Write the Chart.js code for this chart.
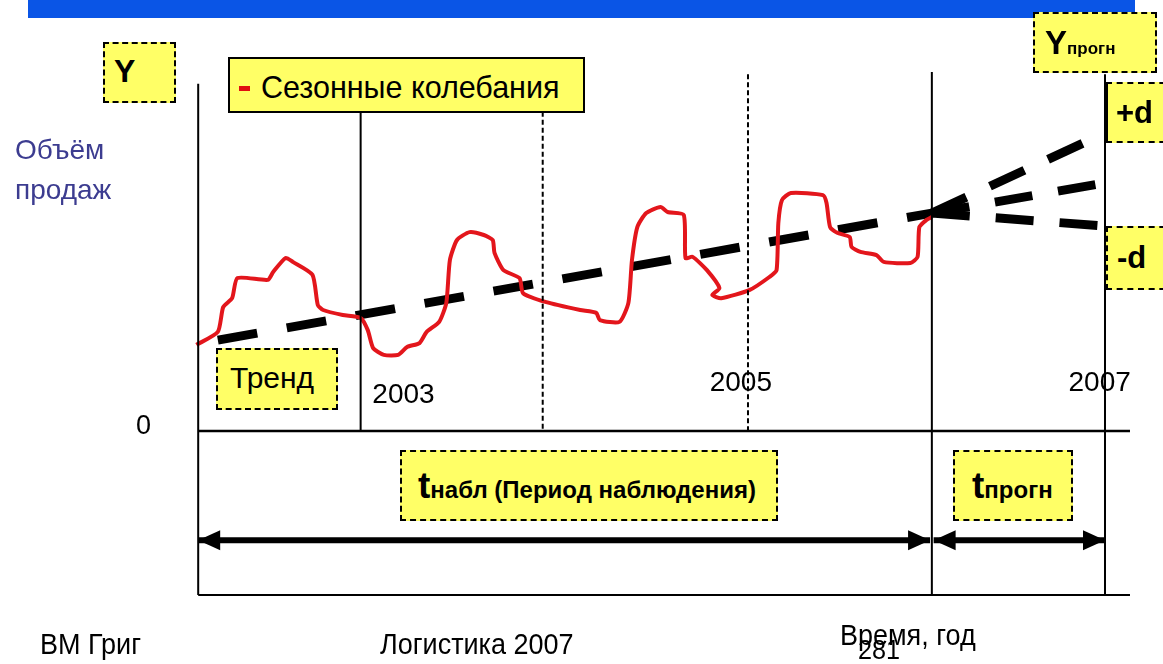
<!DOCTYPE html>
<html lang="ru">
<head>
<meta charset="utf-8">
<title>Прогноз объёма продаж</title>
<script src="https://cdn.jsdelivr.net/npm/chart.js@4.4.1/dist/chart.umd.min.js"></script>
<style>
    body { margin: 0; background: #fff; font-family: "Liberation Sans", Arial, sans-serif; }
    #wrap { position: relative; width: 1163px; height: 664px; overflow: hidden; background: #fff; }
    #wrap canvas { position: absolute; left: 0; top: 0; }
    .box { position: absolute; background: #ffff66; border: 2px dashed #000; box-sizing: border-box; white-space: nowrap; }
    .lbl { position: absolute; white-space: nowrap; line-height: 1; color: #000; }
    .b { font-weight: bold; }
    .narrow { transform: scaleX(0.9); transform-origin: left top; }
</style>
</head>
<body>
<div id="wrap">
    <canvas id="salesChart" width="1163" height="664"></canvas>

    <div style="position:absolute;left:28px;top:0;width:1107px;height:18px;background:#0a55e6;"></div>

    <div class="box" style="left:103px;top:42px;width:73px;height:61px;">
        <span class="lbl b" style="left:9px;top:11px;font-size:32px;">Y</span>
    </div>
    <div class="box" style="left:228px;top:57px;width:357px;height:56px;border:2.5px solid #000;">
        <span style="position:absolute;left:9px;top:27px;width:11px;height:5px;background:#e01010;"></span>
        <span class="lbl" style="left:31px;top:13px;font-size:30.5px;">Сезонные колебания</span>
    </div>
    <div class="lbl" style="left:15px;top:130px;font-size:28px;line-height:40px;color:#3c3c90;">Объём<br>продаж</div>
    <div class="lbl" style="left:136px;top:412px;font-size:27px;">0</div>
    <div class="box" style="left:216px;top:348px;width:122px;height:62px;">
        <span class="lbl" style="left:12px;top:13px;font-size:30px;">Тренд</span>
    </div>

    <div class="box" style="left:1033px;top:12px;width:124px;height:61px;">
        <span class="lbl b" style="left:10px;top:12px;font-size:33px;">Y<span style="font-size:17px;">прогн</span></span>
    </div>
    <div class="box" style="left:1106px;top:82px;width:70px;height:61px;border-left:2.5px solid #000;">
        <span class="lbl b" style="left:8px;top:13px;font-size:31px;">+d</span>
    </div>
    <div class="box" style="left:1106px;top:226px;width:70px;height:64px;">
        <span class="lbl b" style="left:9px;top:14px;font-size:31px;">-d</span>
    </div>

    <div class="box" style="left:400px;top:450px;width:378px;height:71px;">
        <span class="lbl b" style="left:16px;top:15px;font-size:37px;">t<span style="font-size:24px;">набл (Период наблюдения)</span></span>
    </div>
    <div class="box" style="left:953px;top:450px;width:120px;height:71px;">
        <span class="lbl b" style="left:17px;top:15px;font-size:37px;">t<span style="font-size:24px;">прогн</span></span>
    </div>

    <div class="lbl narrow" style="left:40px;top:629px;font-size:30px;">ВМ Григ</div>
    <div class="lbl narrow" style="left:380px;top:629px;font-size:30px;">Логистика 2007</div>
    <div class="lbl narrow" style="left:840px;top:620px;font-size:30px;">Время, год</div>
    <div class="lbl narrow" style="left:858px;top:636px;font-size:28px;">281</div>
</div>

<script>
// сезонные колебания (годы / объём продаж, усл. ед.)
const seasonYears = [2001.91, 2002.03, 2002.06, 2002.11, 2002.14, 2002.31, 2002.34, 2002.41, 2002.45, 2002.56,
    2002.59, 2002.62, 2002.73, 2002.83, 2002.87, 2002.90, 2002.96, 2003.04, 2003.09, 2003.16,
    2003.20, 2003.27, 2003.31, 2003.33, 2003.37, 2003.44, 2003.52, 2003.57, 2003.58, 2003.63,
    2003.72, 2003.74, 2003.87, 2004.06, 2004.15, 2004.17, 2004.28, 2004.33, 2004.35, 2004.38,
    2004.43, 2004.51, 2004.55, 2004.64, 2004.65, 2004.69, 2004.77, 2004.84, 2004.80, 2004.85,
    2005.01, 2005.12, 2005.16, 2005.17, 2005.19, 2005.24, 2005.42, 2005.44, 2005.46, 2005.50,
    2005.57, 2005.58, 2005.63, 2005.72, 2005.76, 2005.91, 2005.95, 2005.96, 2006.00, 2006.03];
const seasonSales = [24.0, 27.6, 34.5, 37.0, 42.6, 42.1, 44.3, 48.2, 47.1, 43.5,
    35.1, 33.7, 32.3, 31.5, 28.1, 23.1, 21.2, 21.2, 23.4, 24.5,
    27.6, 30.4, 35.7, 47.6, 53.2, 55.4, 54.6, 53.2, 49.6, 44.8,
    42.6, 38.4, 35.9, 33.7, 32.9, 30.9, 30.4, 35.7, 47.6, 56.8,
    60.7, 62.4, 61.0, 60.2, 48.2, 48.5, 44.8, 39.8, 37.9, 37.0,
    39.3, 42.9, 44.8, 57.9, 64.3, 66.3, 65.7, 63.5, 56.8, 55.2,
    54.0, 51.3, 49.9, 49.0, 47.1, 46.8, 48.5, 56.8, 58.8, 59.6];

// тренд и прогноз (+d / средний / -d)
const trendYears = [2002.03, 2006.03];
const trendSales = [25.3, 60.7];
const forecastYears = [2006.03, 2007.0];
const forecastUpper = [60.7, 83.0];
const forecastMiddle = [60.7, 69.1];
const forecastLower = [60.7, 57.1];

// вертикальные разделители
const dividerYears = [2002.83, 2003.85, 2005.0, 2006.03, 2007.0];
const dividerTop = [88.9, 88.9, 99.4, 100.0, 99.4];
const dividerBottom = [0, 0, 0, -45.7, -45.7];

// оси и периоды
const axisStart = 2001.92;
const axisEnd = 2007.14;
const axisTop = 96.7;
const axisBottom = -45.7;
const periodLevel = -30.4;
const observationPeriod = [2001.92, 2006.02];
const forecastPeriod = [2006.04, 2007.0];

// подписи годов
const yearLabels = ['2003', '2005', '2007'];
const yearLabelX = [2003.07, 2004.96, 2006.97];
const yearLabelY = [10.0, 13.4, 13.4];

const pts = (xs, ys) => xs.map((x, i) => ({ x: x, y: ys[i] }));

function lineSet(data, color, width, dash) {
    return {
        data: data,
        showLine: true,
        borderColor: color,
        borderWidth: width,
        borderDash: dash || [],
        pointRadius: 0,
        clip: false,
        tension: 0
    };
}

const datasets = [];

// оси
datasets.push(lineSet(pts([axisStart, axisStart], [axisTop, axisBottom]), '#000', 2));
datasets.push(lineSet(pts([axisStart, axisEnd], [0, 0]), '#000', 2.5));
datasets.push(lineSet(pts([axisStart, axisEnd], [axisBottom, axisBottom]), '#000', 2));

// разделители
const dividerDash = [[], [5, 3], [5, 3], [], []];
dividerYears.forEach((yr, i) => {
    datasets.push(lineSet(pts([yr, yr], [dividerTop[i], dividerBottom[i]]), '#000', 2, dividerDash[i]));
});

// сезонные колебания
const season = lineSet(pts(seasonYears, seasonSales), '#e3161c', 4);
season.tension = 0.2;
datasets.push(season);

// тренд и прогноз
datasets.push(lineSet(pts(trendYears, trendSales), '#000', 9, [40, 30]));
datasets.push(lineSet(pts(forecastYears, forecastUpper), '#000', 9, [38, 26]));
datasets.push(lineSet(pts(forecastYears, forecastMiddle), '#000', 9, [38, 26]));
datasets.push(lineSet(pts(forecastYears, forecastLower), '#000', 9, [38, 26]));

// периоды наблюдения и прогноза
[observationPeriod, forecastPeriod].forEach(p => {
    const ds = lineSet(pts(p, [periodLevel, periodLevel]), '#000', 6);
    ds.arrowHeads = true;
    datasets.push(ds);
});

const overlayPlugin = {
    id: 'overlay',
    afterDatasetsDraw(chart) {
        const ctx = chart.ctx;
        ctx.save();
        chart.data.datasets.forEach((ds, i) => {
            if (!ds.arrowHeads) return;
            const meta = chart.getDatasetMeta(i);
            const a = meta.data[0];
            const b = meta.data[meta.data.length - 1];
            ctx.fillStyle = '#000';
            [[a, 1], [b, -1]].forEach(([p, dir]) => {
                ctx.beginPath();
                ctx.moveTo(p.x, p.y);
                ctx.lineTo(p.x + dir * 22, p.y - 10);
                ctx.lineTo(p.x + dir * 22, p.y + 10);
                ctx.closePath();
                ctx.fill();
            });
        });

        const xs = chart.scales.x;
        const ys = chart.scales.y;
        ctx.font = '28px "Liberation Sans", Arial, sans-serif';
        ctx.fillStyle = '#000';
        ctx.textAlign = 'center';
        ctx.textBaseline = 'middle';
        yearLabels.forEach((t, i) => {
            ctx.fillText(t, xs.getPixelForValue(yearLabelX[i]), ys.getPixelForValue(yearLabelY[i]));
        });
        ctx.restore();
    }
};

new Chart(document.getElementById('salesChart').getContext('2d'), {
    type: 'scatter',
    data: { datasets: datasets },
    options: {
        responsive: false,
        animation: false,
        layout: {
            padding: { left: 185.7, right: 22.3, top: 72, bottom: 53.5 }
        },
        plugins: {
            legend: { display: false },
            tooltip: { enabled: false }
        },
        scales: {
            x: { type: 'linear', min: 2001.85, max: 2007.2, display: false },
            y: { type: 'linear', min: -50, max: 100, display: false }
        }
    },
    plugins: [overlayPlugin]
});
</script>
</body>
</html>
